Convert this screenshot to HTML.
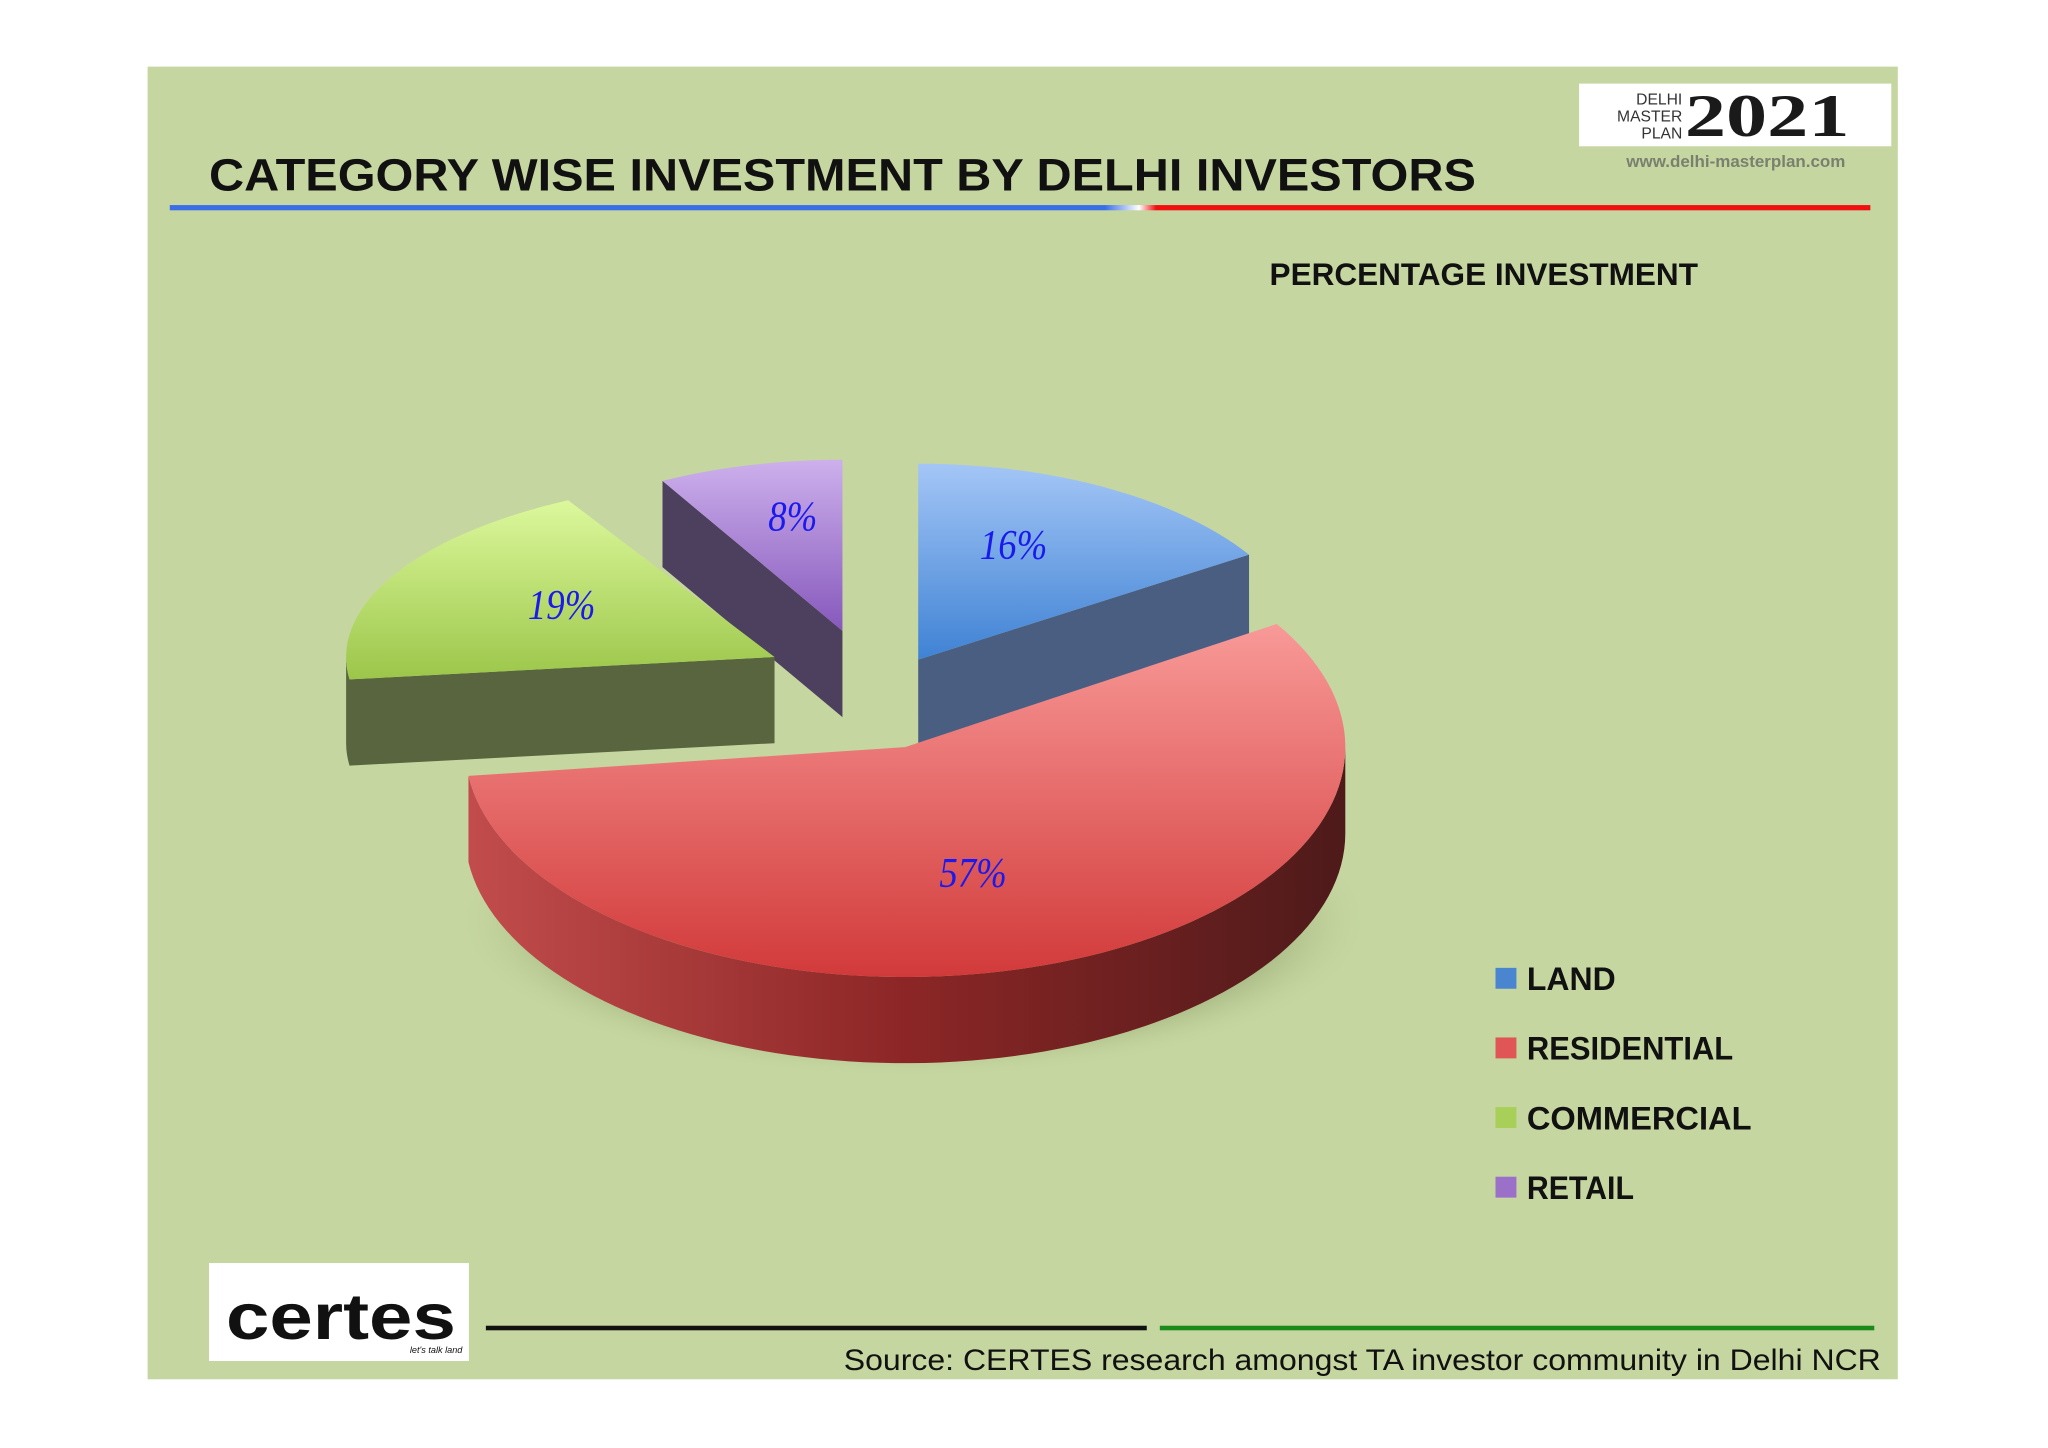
<!DOCTYPE html>
<html><head><meta charset="utf-8"><style>
html,body{margin:0;padding:0;background:#fff;}
svg{display:block;}
</style></head><body>
<svg id="chart" width="2048" height="1448" viewBox="0 0 1568 1108.6" xmlns="http://www.w3.org/2000/svg">
<defs>
<linearGradient id="gLand" x1="0" y1="0" x2="0" y2="1"><stop offset="0" stop-color="#a4c6f6"/><stop offset="1" stop-color="#3f82d4"/></linearGradient>
<linearGradient id="gRes" x1="0" y1="0" x2="0" y2="1"><stop offset="0" stop-color="#f89a98"/><stop offset="1" stop-color="#d23a3a"/></linearGradient>
<linearGradient id="gCom" x1="0" y1="0" x2="0" y2="1"><stop offset="0" stop-color="#dcf89c"/><stop offset="1" stop-color="#9cc64a"/></linearGradient>
<linearGradient id="gRet" x1="0" y1="0" x2="0" y2="1"><stop offset="0" stop-color="#cdb0ec"/><stop offset="1" stop-color="#8658bc"/></linearGradient>
<linearGradient id="sRes" x1="0" y1="0" x2="1" y2="0"><stop offset="0" stop-color="#c24c4c"/><stop offset="0.5" stop-color="#8c2626"/><stop offset="1" stop-color="#4e1a1a"/></linearGradient>
<linearGradient id="lineTop" x1="0" y1="0" x2="1" y2="0"><stop offset="0" stop-color="#3a6ee8"/><stop offset="0.55" stop-color="#3a6ee8"/><stop offset="0.57" stop-color="#ffffff"/><stop offset="0.58" stop-color="#f01010"/><stop offset="1" stop-color="#f01010"/></linearGradient>
<radialGradient id="shadow" cx="0.5" cy="0.5" r="0.5"><stop offset="0.8" stop-color="#8e9e6c" stop-opacity="0.5"/><stop offset="1" stop-color="#c5d6a0" stop-opacity="0"/></radialGradient>
</defs>
<rect x="113" y="51" width="1340" height="1005" fill="#c5d6a0"/>
<rect x="1209" y="64" width="239" height="48" fill="#fff"/>
<text x="1288" y="80" font-family="Liberation Sans, sans-serif" font-size="12" text-anchor="end" fill="#333">DELHI</text>
<text x="1288" y="93" font-family="Liberation Sans, sans-serif" font-size="12" text-anchor="end" fill="#333">MASTER</text>
<text x="1288" y="106" font-family="Liberation Sans, sans-serif" font-size="12" text-anchor="end" fill="#333">PLAN</text>
<text x="1290" y="104" font-family="Liberation Serif, serif" font-weight="bold" font-size="46" textLength="126" lengthAdjust="spacingAndGlyphs" fill="#1a1a1a">2021</text>
<text x="1329" y="128" font-family="Liberation Sans, sans-serif" font-weight="bold" font-size="13" text-anchor="middle" fill="#7a8070">www.delhi-masterplan.com</text>
<text x="160" y="146" font-family="Liberation Sans, sans-serif" font-weight="bold" font-size="35" textLength="970" lengthAdjust="spacingAndGlyphs" fill="#111">CATEGORY WISE INVESTMENT BY DELHI INVESTORS</text>
<rect x="130" y="157" width="1302" height="4" fill="url(#lineTop)"/>
<text x="972" y="218" font-family="Liberation Sans, sans-serif" font-weight="bold" font-size="24" textLength="328" lengthAdjust="spacingAndGlyphs" fill="#111">PERCENTAGE INVESTMENT</text>
<ellipse cx="700" cy="705" rx="350" ry="120" fill="url(#shadow)"/>
<g id="pie"></g>
<g id="legend"></g>
<rect x="160" y="967" width="199" height="75" fill="#fff"/>
<text x="173" y="1025" font-family="Liberation Sans, sans-serif" font-weight="bold" font-size="50" textLength="176" lengthAdjust="spacingAndGlyphs" fill="#111">certes</text>
<text x="354" y="1036" font-family="Liberation Sans, sans-serif" font-style="italic" font-size="7" text-anchor="end" fill="#111">let's talk land</text>
<rect x="372" y="1015" width="506" height="3.5" fill="#111"/>
<rect x="888" y="1015" width="547" height="3.5" fill="#1a8a1a"/>
<text x="646" y="1049" font-family="Liberation Sans, sans-serif" font-size="23" textLength="794" lengthAdjust="spacingAndGlyphs" fill="#111">Source: CERTES research amongst TA investor community in Delhi NCR</text>
</svg>
<script>
const categories = ["LAND", "RESIDENTIAL", "COMMERCIAL", "RETAIL"];
const values = [16, 57, 19, 8];
const labels = ["16%", "57%", "19%", "8%"];

const NS = "http://www.w3.org/2000/svg";
const topFill = ["url(#gLand)", "url(#gRes)", "url(#gCom)", "url(#gRet)"];
const wallFill = ["#4a5e82", "#7a2222", "#58653e", "#4c405e"];
const sideFill = ["#4a5e82", "url(#sRes)", "#58653e", "#4c405e"];
const legendColor = ["#4a86d0", "#e05656", "#a8d058", "#9a70c8"];
const geo = [
  {cx: 703, cy: 505, rx: 300, ry: 150},
  {cx: 693, cy: 572, rx: 337, ry: 176},
  {cx: 593, cy: 503, rx: 328, ry: 137},
  {cx: 645, cy: 483, rx: 286, ry: 131}
];
const depth = 66;
const labelPos = [[776, 417], [745, 668], [430, 463], [607, 395]];

const total = values.reduce((a, b) => a + b, 0);
const angles = [];
let acc = 0;
values.forEach(v => { const a0 = acc / total * 360; acc += v; angles.push([a0, acc / total * 360]); });

function pt(g, deg, dy) {
  const r = deg * Math.PI / 180;
  return [g.cx + g.rx * Math.sin(r), g.cy - g.ry * Math.cos(r) + (dy || 0)];
}
function arcPath(g, a0, a1, dy) {
  let d = "";
  const steps = Math.max(2, Math.ceil((a1 - a0) / 2));
  for (let i = 0; i <= steps; i++) {
    const p = pt(g, a0 + (a1 - a0) * i / steps, dy);
    d += (i === 0 ? "" : "L") + p[0].toFixed(2) + "," + p[1].toFixed(2) + " ";
  }
  return d;
}
function arcPathRev(g, a0, a1, dy) {
  let d = "";
  const steps = Math.max(2, Math.ceil((a1 - a0) / 2));
  for (let i = steps; i >= 0; i--) {
    const p = pt(g, a0 + (a1 - a0) * i / steps, dy);
    d += "L" + p[0].toFixed(2) + "," + p[1].toFixed(2) + " ";
  }
  return d;
}
const pie = document.getElementById("pie");
function add(tag, attrs, parent) {
  const el = document.createElementNS(NS, tag);
  for (const k in attrs) el.setAttribute(k, attrs[k]);
  parent.appendChild(el);
  return el;
}
const order = [3, 0, 2, 1];
order.forEach(i => {
  const g = geo[i], [a0, a1] = angles[i];
  const grp = add("g", {}, pie);
  
  
  if (Math.sin(a0 * Math.PI / 180) < -0.01) {
    const p = pt(g, a0);
    const w = add("path", {d: `M${g.cx},${g.cy} L${p[0]},${p[1]} L${p[0]},${p[1] + depth} L${g.cx},${g.cy + depth} Z`, fill: wallFill[i]}, grp);
    
    
  }
  if (Math.sin(a1 * Math.PI / 180) > 0.01) {
    const p = pt(g, a1);
    const w = add("path", {d: `M${g.cx},${g.cy} L${p[0]},${p[1]} L${p[0]},${p[1] + depth} L${g.cx},${g.cy + depth} Z`, fill: wallFill[i]}, grp);
    
    
  }
  const s0 = Math.max(a0, 90), s1 = Math.min(a1, 270);
  if (s1 > s0) {
    const d = "M" + arcPath(g, s0, s1, 0) + arcPathRev(g, s0, s1, depth) + "Z";
    const w = add("path", {d: d, fill: sideFill[i]}, grp);
    
    
  }
  const d = `M${g.cx},${g.cy} L` + arcPath(g, a0, a1, 0) + "Z";
  const t = add("path", {d: d, fill: topFill[i]}, grp);
  
  
});
values.forEach((v, i) => {
  const t = add("text", {x: labelPos[i][0], y: labelPos[i][1] + 11, "text-anchor": "middle", "font-family": "Liberation Serif, serif", "font-style": "italic", "font-size": "32", fill: "#1a1aee", transform: `translate(${labelPos[i][0]*0.12},0) scale(0.88,1)`}, pie);
  
  
  t.textContent = labels[i];
});
const legend = document.getElementById("legend");
const lw = [68, 158, 172, 82];
categories.forEach((c, i) => {
  const y = 749 + i * 53.3;
  const r = add("rect", {x: 1145, y: y - 8, width: 16, height: 16, fill: legendColor[i]}, legend);
  
  
  const t = add("text", {x: 1169, y: y + 9, "font-family": "Liberation Sans, sans-serif", "font-weight": "bold", "font-size": "25", textLength: lw[i], lengthAdjust: "spacingAndGlyphs", fill: "#111"}, legend);
  
  
  t.textContent = c;
});
</script>
</body></html>
